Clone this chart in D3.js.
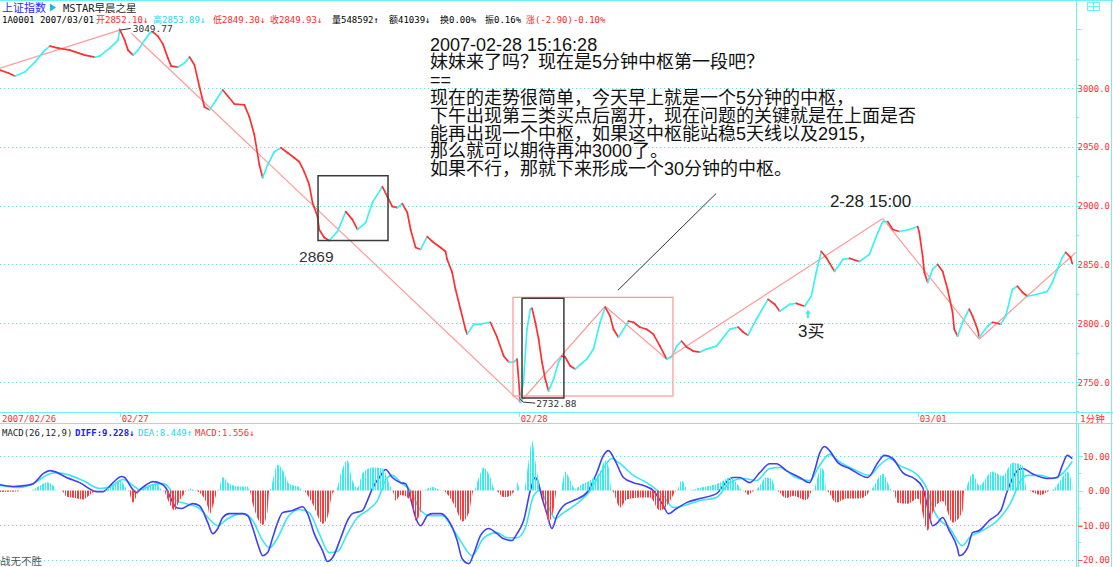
<!DOCTYPE html>
<html><head><meta charset="utf-8">
<script src="https://cdn.jsdelivr.net/npm/d3@7"></script>
<style>body{margin:0;background:#fff;overflow:hidden}svg{display:block}</style>
</head><body><svg id="c" width="1113" height="567"></svg>
<script>
// ---------------- DATA ----------------
// minute index (0 = first 1-minute bar shown, 02/26 afternoon) and index level
const priceIdx = [0,5,9,15,21,27,30,35,42,51,57,60,66,71,72,75,77,80,83,87,90,92,95,98,101,103,107,111,114,117,120,123,126,130,134,137,141,147,150,153,156,158,161,165,169,173,177,180,183,186,188,191,192,195,198,203,208,212,215,220,224,230,233,236,239,242,245,247,250,253,257,260,265,268,269,272,274,277,280,281,285,289,295,299,303,306,309,311,313,315,317,319,320,322,324,326,328,330,333,336,338,340,343,346,348,353,357,361,364,367,369,372,374,378,381,385,389,393,397,401,404,407,410,413,417,421,425,431,439,444,447,450,455,462,466,469,475,479,484,488,491,494,497,502,507,511,517,523,528,531,534,537,541,547,552,553,555,556,558,561,564,567,570,573,574,576,579,583,585,588,589,594,597,602,605,609,612,615,618,624,630,633,636,639,641,644,645];
const priceVal = [3015.3,3012.7,3010.2,3013.6,3022,3032.2,3035.6,3033.9,3032.2,3028,3026.3,3027.1,3033.9,3040.7,3049.77,3040.7,3032.2,3028,3032.2,3040.7,3046.6,3047.5,3044.1,3037.3,3025.4,3018.6,3017.8,3021.2,3026.3,3019.5,3000.8,2983.9,2981.4,2989.8,2998.3,2993.2,2986.4,2985.6,2975.4,2960.2,2934.7,2923.7,2934.7,2945.8,2949.2,2944.9,2940.7,2937.3,2928.8,2917.8,2902.5,2890.7,2879.7,2872.9,2870.3,2878,2894.9,2888.1,2879.7,2885.6,2902.5,2916.1,2907.6,2899.2,2898.3,2901.7,2894.1,2879.7,2864.4,2862.7,2873.7,2869.5,2864.4,2861,2854.2,2843.2,2828.8,2811.9,2794.9,2790.7,2799.2,2799.2,2800.8,2788.1,2772,2767,2767,2769.5,2732.88,2752.5,2794.9,2811.9,2812.7,2800.8,2786.4,2767,2752.5,2742.4,2752.5,2767,2772,2771.2,2763.6,2761,2763.6,2769.5,2778,2800.8,2813.6,2806,2794.9,2788.1,2792.4,2801.7,2800.8,2796.6,2794.9,2790.7,2780.5,2769.5,2771.2,2780.5,2784.7,2779.7,2776.3,2775.4,2778,2780.5,2794.9,2796.6,2792.4,2789.8,2803.4,2820.3,2816.1,2810.2,2816.1,2816.9,2814.4,2822.9,2843.2,2861,2855.9,2844.1,2854.2,2855.1,2852.5,2858.5,2877.1,2886.4,2886.4,2879.7,2878,2879.7,2882.2,2877.1,2856.8,2843.2,2834.7,2845.8,2850,2844.1,2828.8,2809.3,2794.9,2789,2800.8,2811.9,2806,2794.9,2788.1,2797.5,2800.8,2799.2,2806,2828.8,2831.4,2826.3,2822.9,2824.6,2827.1,2834.7,2845.8,2855.9,2860.2,2855.9,2850.8];

// MACD histogram [minute, value]
const histData = [[0,-0.4],[10,-0.3],[13,0],[18,0],[24,1.5],[28,2.4],[32,1.5],[34,0],[37,0],[40,-1.7],[46,-2.2],[50,-2.6],[54,-1.3],[58,0],[62,0],[66,1.0],[72,3.0],[75,1.5],[77,0],[80,-3.5],[84,0],[87,0.8],[90,1.6],[94,2.0],[98,0],[102,-3.8],[105,-5.8],[108,-2.9],[111,-0.8],[112,0],[115,0.6],[117,0],[120,-0.6],[125,-4.7],[126,-6.8],[129,-3],[131,0],[134,3.9],[138,2.0],[144,1.2],[149,1.2],[150,0],[152,-3.8],[158,-10],[161,-5.8],[162,0],[167,7.5],[170,6],[174,2],[180,1],[182,0],[188,-3.8],[194,-9.6],[197,-7.8],[200,-0.8],[202,0],[205,5],[209,8.8],[212,3],[215,0.8],[218,5],[224,6.7],[230,6.5],[235,1],[236,0],[238,-2.9],[241,-1.3],[245,-2],[248,-3.7],[250,-8.7],[253,-6],[254,0],[260,1.0],[266,0],[269,-1],[274,-4.9],[278,-9],[282,-6.5],[285,0],[288,3.8],[291,6.7],[295,3.8],[298,0],[303,-1.9],[307,-1.5],[310,0],[311,2.4],[313,0],[315,0],[318,8.7],[320,14.5],[322,8.7],[324,3],[325,0],[328,-4.9],[330,-9],[333,-5.5],[335,0],[337,0],[340,5.5],[343,3],[346,0.5],[349,1.5],[355,3],[361,5.5],[364,8.7],[366,7],[368,0],[373,-4.9],[377,-2.6],[385,-2],[391,-2],[397,-5.8],[400,-5],[404,-2.2],[407,0],[410,3],[414,0],[421,0.8],[433,2.3],[439,3.8],[443,2.3],[447,0],[450,-1.2],[454,0],[461,3.8],[464,3.5],[467,0],[473,-2.2],[477,-1.5],[485,-2.8],[489,0],[494,6.7],[496,5],[497,0],[503,-3.5],[509,-2.3],[517,-2.3],[522,-1],[523,0],[531,4.9],[537,0],[540,-3.5],[546,-3.8],[552,-2.3],[553,-3],[558,-11.6],[561,-6.5],[567,-3],[573,-9.3],[579,-6],[580,0],[585,4.9],[589,1.5],[597,5.5],[603,4.2],[609,8.1],[615,7.3],[618,0],[626,-1.3],[632,0],[638,3],[642,5.5],[645,2]];

const diffData = [[0,1.7],[8,1.2],[16,1.5],[20,2.0],[26,4.9],[30,5.8],[33,5.5],[40,3.8],[48,2.3],[58,-0.3],[62,-0.3],[68,2.3],[73,4.1],[75,3.8],[79,0.9],[82,-0.6],[85,0.6],[88,1.7],[92,2.6],[97,2.0],[100,0.6],[102,-1.5],[104,-3.5],[106,-4.9],[109,-5.2],[116,-3.8],[120,-4.4],[125,-9.3],[128,-12.5],[131,-11],[134,-7.8],[138,-6.7],[146,-6.7],[149,-7.3],[152,-10.8],[155,-15.4],[158,-18.9],[161,-18],[164,-13.7],[167,-9.3],[170,-6.4],[176,-5.8],[182,-4.7],[185,-6.7],[189,-12.5],[194,-17.4],[197,-20.6],[200,-19.5],[205,-13.7],[209,-8.7],[212,-6.7],[218,-5.8],[221,-2.9],[224,0.6],[229,4.4],[232,6.1],[236,3.8],[241,2.3],[244,2.0],[247,-2.3],[250,-7.8],[253,-10.2],[257,-7.3],[260,-6.7],[265,-6.7],[269,-8.1],[275,-14.5],[278,-19.8],[282,-21.2],[285,-18.3],[289,-13.1],[294,-11],[299,-12.5],[303,-14],[308,-14.5],[311,-12.5],[315,-8.7],[319,0],[322,3.8],[324,2.0],[326,-2.0],[329,-6.7],[332,-11],[335,-7.3],[339,-4.4],[345,-2.9],[353,-0.6],[359,5.2],[363,10.2],[366,11.6],[370,8.7],[375,3.8],[381,2.3],[387,1.5],[393,0],[399,-4.4],[402,-6.7],[407,-5.2],[413,-3.5],[421,-2.3],[431,-0.9],[436,2.0],[441,3.8],[445,3.8],[451,2.3],[457,5.2],[463,7.8],[467,7.8],[473,5.8],[481,3.8],[487,2.3],[490,5.8],[493,10.8],[496,12.8],[499,11.6],[504,8.1],[511,6.4],[522,3.8],[528,8.1],[532,10.2],[537,9.3],[543,5.2],[550,3.5],[555,0.9],[558,-4.9],[561,-10.2],[564,-9.3],[567,-7.8],[571,-11.6],[576,-16.9],[577,-18.9],[582,-16.6],[585,-12.2],[589,-11.6],[595,-8.7],[602,-5.8],[606,0],[612,5.8],[615,6.4],[621,4.9],[630,3.5],[636,3.8],[639,7.3],[642,10.2],[645,9.23]];

const deaData = [[0,1.5],[12,0.9],[20,2.0],[30,4.9],[34,5.2],[40,4.7],[50,2.9],[60,0.6],[68,1.5],[74,3.2],[80,1.5],[84,0.3],[92,1.7],[98,2.0],[102,0.6],[106,-2.9],[112,-3.8],[120,-5.2],[125,-7.8],[131,-10.2],[137,-8.1],[146,-6.7],[152,-8.7],[158,-14.5],[162,-16.6],[167,-13.7],[173,-7.8],[180,-5.5],[186,-6.4],[192,-12.5],[198,-18],[203,-17.7],[209,-12.5],[215,-7.8],[221,-5.8],[227,-2.9],[233,3.8],[236,4.4],[241,2.3],[247,0],[253,-5.8],[259,-7.3],[266,-7.3],[272,-10.8],[278,-15.4],[284,-18.9],[291,-13.7],[299,-12.2],[305,-13.7],[311,-13.7],[316,-10.8],[321,-1.5],[325,0],[329,-3.8],[334,-8.1],[339,-6.4],[347,-3.8],[355,0],[361,4.9],[368,9.3],[373,7.8],[381,4.4],[389,2.3],[399,-1.5],[405,-4.9],[411,-4.4],[421,-2.9],[431,-2.0],[439,2.3],[447,3.5],[455,2.9],[463,6.4],[469,6.7],[479,3.8],[487,2.9],[493,7.3],[499,10.5],[504,8.7],[515,5.8],[523,4.4],[529,7.3],[535,9.3],[541,7.3],[552,4.4],[558,0],[561,-4.9],[564,-7.8],[571,-10.8],[579,-16],[583,-13.7],[591,-11.6],[600,-8.7],[608,-3.5],[614,2.9],[618,4.4],[626,4.4],[633,3.5],[639,4.9],[645,8.45]];

// hand-drawn trend segments [[minute, level],[minute, level]]
const trendLines = [[[0,3016.9],[72,3049.2]],[[79,3046.6],[313,2733]],[[313,2733],[364,2814.4]],[[364,2814.4],[401,2769.5]],[[401,2769.5],[531,2889]],[[531,2889],[589,2786.4]],[[589,2786.4],[647,2860]]];
// boxes [minStart, minEnd, levelTop, levelBottom, kind]
const boxes = [[191.3,233.4,2925.4,2870.3,'dark'],[308.6,404.8,2822.0,2738.1,'pink'],[314,339.2,2821.2,2736.4,'dark']];
const pointerLine = [[371.7,2828],[430.7,2910.2]];

const priceTicks = [2750,2800,2850,2900,2950,3000];
const macdTicks = [-20,-10,0,10];
const dayLabels = [[0,'2007/02/26'],[72,'02/27'],[312,'02/28'],[552,'03/01']];
const noteLines = ["2007-02-28 15:16:28","妹妹来了吗？现在是5分钟中枢第一段吧？","==","现在的走势很简单，今天早上就是一个5分钟的中枢，","下午出现第三类买点后离开，现在问题的关键就是在上面是否","能再出现一个中枢，如果这中枢能站稳5天线以及2915，","那么就可以期待再冲3000了。","如果不行，那就下来形成一个30分钟的中枢。"];
const headerItems = [["1A0001 2007/03/01","#000",2],["开2852.10↓","#ff2828",96],["高2853.89↓","#22d8f0",153],["低2849.30↓","#ff2828",213],["收2849.93↓","#ff2828",270],["量548592↑","#000",332],["额41039↓","#000",389],["换0.00%","#000",440],["振0.16%","#000",485],["涨(-2.90)-0.10%","#ff2828",526]];

// ---------------- DRAW ----------------
const svg = d3.select('#c');
const RED = '#ff3030', CY = '#3ef2f2', FRAME = '#6ef2f2', PINK = '#ff9c9c';
const MONO = "'DejaVu Sans Mono','Noto Sans CJK SC',monospace";
const SANS = "'Liberation Sans','Noto Sans CJK SC',sans-serif";
const x = d3.scaleLinear().domain([0,647]).range([0,1075.6]);
const yP = d3.scaleLinear().domain([2750,3000]).range([382,88]);
const yM = d3.scaleLinear().domain([-20,10]).range([559.5,456.1]);

svg.append('rect').attr('width',1113).attr('height',567).attr('fill','#fff');
const defs = svg.append('defs');
defs.append('clipPath').attr('id','cpMain').append('rect').attr('x',0).attr('y',0).attr('width',1076).attr('height',412);
defs.append('clipPath').attr('id','cpMacd').append('rect').attr('x',0).attr('y',424).attr('width',1076).attr('height',143);
function stripe(id,color){
  const p = defs.append('pattern').attr('id',id).attr('patternUnits','userSpaceOnUse').attr('width',5).attr('height',4);
  [0,2,3].forEach(o=>p.append('rect').attr('x',o).attr('width',1).attr('height',4).attr('fill',color));
}
stripe('stC','#2ef0f0'); stripe('stR','#ff3a3a');

function txt(g,xx,yy,s,color,size,family,len,anchor){
  const t = g.append('text').attr('x',xx).attr('y',yy).text(s).attr('fill',color)
    .attr('font-size',size).attr('font-family',family).attr('text-anchor',anchor||'start');
  if(len) t.attr('textLength',len).attr('lengthAdjust','spacingAndGlyphs');
  return t;
}

// grid lines
const grid = svg.append('g').attr('stroke',CY).attr('stroke-width',1).attr('stroke-dasharray','1,3');
priceTicks.forEach(v=>grid.append('line').attr('x1',0).attr('x2',1076).attr('y1',Math.round(yP(v))+0.5).attr('y2',Math.round(yP(v))+0.5));
[10,-10,-20].forEach(v=>grid.append('line').attr('x1',0).attr('x2',1076).attr('y1',Math.round(yM(v))+0.5).attr('y2',Math.round(yM(v))+0.5));

// main plot
const main = svg.append('g').attr('clip-path','url(#cpMain)');
trendLines.forEach(s=>main.append('line').attr('x1',x(s[0][0])).attr('y1',yP(s[0][1])).attr('x2',x(s[1][0])).attr('y2',yP(s[1][1])).attr('stroke',PINK).attr('stroke-width',1.2));
for(let i=1;i<priceIdx.length;i++){
  main.append('line').attr('x1',x(priceIdx[i-1])).attr('y1',yP(priceVal[i-1])).attr('x2',x(priceIdx[i])).attr('y2',yP(priceVal[i]))
    .attr('stroke', priceVal[i] < priceVal[i-1] ? RED : CY).attr('stroke-width',1.7).attr('stroke-linecap','round');
}
boxes.forEach(b=>{
  main.append('rect').attr('x',x(b[0])).attr('y',yP(b[2])).attr('width',x(b[1])-x(b[0])).attr('height',yP(b[3])-yP(b[2]))
    .attr('fill','none').attr('stroke',b[4]==='pink'?PINK:'#3a3a3a').attr('stroke-width',b[4]==='pink'?1.3:1.5);
});
main.append('line').attr('x1',x(pointerLine[0][0])).attr('y1',yP(pointerLine[0][1])).attr('x2',x(pointerLine[1][0])).attr('y2',yP(pointerLine[1][1])).attr('stroke','#333').attr('stroke-width',1);

// high / low markers
const hiI = priceVal.indexOf(d3.max(priceVal)), loI = priceVal.indexOf(d3.min(priceVal));
const hx = x(priceIdx[hiI]), hy = yP(priceVal[hiI]);
main.append('line').attr('x1',hx+1).attr('y1',hy+0.5).attr('x2',hx+11).attr('y2',hy-1).attr('stroke','#333');
txt(main,hx+13,hy+2.5,d3.format('.2f')(priceVal[hiI]),'#333',9.5,MONO);
const lx = x(priceIdx[loI]), ly = yP(priceVal[loI]);
main.append('polyline').attr('points',`${lx},${ly-3} ${lx+3},${ly} ${lx+15},${ly+1}`).attr('fill','none').attr('stroke','#333');
txt(main,lx+16,ly+4.5,d3.format('.2f')(priceVal[loI]),'#333',9.5,MONO);

// annotations
txt(main,x(179.9),yP(2851.7),'2869','#333',15.5,SANS);
txt(main,x(499.2),yP(2898.5),'2-28 15:00','#222',17,SANS);
txt(main,x(480),yP(2788.1),'3买','#222',17,SANS);
main.append('path').attr('d',`M${x(486)},${yP(2811.5)} l-3,4 h2 v4.5 h2 v-4.5 h2 z`).attr('fill',CY);
const note = svg.append('g');
noteLines.forEach((s,i)=>txt(note,430,50.5+17.8*i,s,'#111',18,SANS));

// MACD
const macd = svg.append('g').attr('clip-path','url(#cpMacd)');
const ln = d3.line().x(d=>x(d[0])).y(d=>yM(d[1])).curve(d3.curveMonotoneX);
macd.append('path').attr('d',ln(deaData)).attr('fill','none').attr('stroke','#38e8f0').attr('stroke-width',1.6);
macd.append('path').attr('d',ln(diffData)).attr('fill','none').attr('stroke','#4040f4').attr('stroke-width',1.6);
const areaPos = d3.area().x(d=>x(d[0])).y0(yM(0)).y1(d=>yM(Math.max(0,d[1]))).curve(d3.curveMonotoneX);
const areaNeg = d3.area().x(d=>x(d[0])).y0(yM(0)).y1(d=>yM(Math.min(0,d[1]))).curve(d3.curveMonotoneX);
macd.append('path').attr('d',areaPos(histData)).attr('fill','url(#stC)');
macd.append('path').attr('d',areaNeg(histData)).attr('fill','url(#stR)');

// frame
const fr = svg.append('g').attr('stroke',FRAME).attr('stroke-width',1).attr('fill','none');
fr.append('line').attr('x1',0).attr('x2',1113).attr('y1',0.5).attr('y2',0.5);
fr.append('line').attr('x1',0).attr('x2',1113).attr('y1',412.5).attr('y2',412.5);
fr.append('line').attr('x1',0).attr('x2',1113).attr('y1',423.5).attr('y2',423.5);
fr.append('line').attr('x1',1076.5).attr('x2',1076.5).attr('y1',0).attr('y2',567);
fr.append('line').attr('x1',1078.5).attr('x2',1078.5).attr('y1',424).attr('y2',567);
fr.append('line').attr('x1',1111.5).attr('x2',1111.5).attr('y1',0).attr('y2',567);
fr.append('rect').attr('x',1087.5).attr('y',2.5).attr('width',12).attr('height',8);
fr.append('line').attr('x1',1093.5).attr('x2',1093.5).attr('y1',2.5).attr('y2',10.5);
fr.append('line').attr('x1',1087.5).attr('x2',1099.5).attr('y1',6.5).attr('y2',6.5);
dayLabels.forEach(d=>{ if(d[0]>0) fr.append('line').attr('x1',Math.round(x(d[0]))+0.5).attr('x2',Math.round(x(d[0]))+0.5).attr('y1',412).attr('y2',417); });

// right price axis
const ax = svg.append('g');
d3.range(2725,3076,25).forEach(v=>{
  const yy = Math.round(yP(v))+0.5; const major = v%50===0;
  ax.append('line').attr('x1',1077).attr('x2',major?1081:1079).attr('y1',yy).attr('y2',yy).attr('stroke',FRAME);
});
priceTicks.forEach(v=>txt(ax,1110,yP(v)+3.5,d3.format('.1f')(v),RED,9,MONO,null,'end'));
d3.range(-20,11,5).forEach(v=>{
  const yy = Math.round(yM(v))+0.5; const major = v%10===0;
  ax.append('line').attr('x1',1079).attr('x2',major?1083:1081).attr('y1',yy).attr('y2',yy).attr('stroke',FRAME);
});
macdTicks.forEach(v=>txt(ax,1110,yM(v)+3.5,d3.format('.2f')(v),RED,9,MONO,null,'end'));
txt(ax,1080,421.5,'1分钟',RED,9.5,MONO);

// date labels
dayLabels.forEach(d=>txt(ax,x(d[0])+2,421.5,d[1],RED,9,MONO));

// header
const hd = svg.append('g');
txt(hd,2,11.5,'上证指数','#2a2aff',11,SANS);
hd.append('path').attr('d','M50,3.5 L56,7.5 L50,11.5 Z').attr('fill','#20b8e0');
txt(hd,63,11.5,'MSTAR早晨之星','#222',10.5,MONO);
headerItems.forEach(h=>txt(hd,h[2],23,h[0],h[1],9,MONO));

// macd title
txt(hd,2,436,'MACD(26,12,9)','#222',9,MONO);
txt(hd,75,436,'DIFF:9.228↓','#2020ff',9,MONO).attr('font-weight','bold');
txt(hd,138,436,'DEA:8.449↑','#22d8f0',9,MONO);
txt(hd,195,436,'MACD:1.556↓',RED,9,MONO);
txt(hd,0,564.5,'战无不胜','#555',10.5,SANS);
</script></body></html>
